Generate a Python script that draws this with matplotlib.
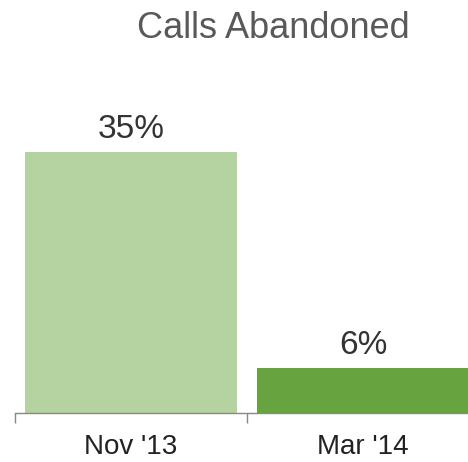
import matplotlib
matplotlib.use('Agg')
import matplotlib.pyplot as plt
import numpy as np

plt.rcParams['font.family'] = ['Liberation Sans', 'DejaVu Sans']

# Datos
categorias = ["Nov '13", "Mar '14"]
valores = [35, 6]
etiquetas = ['35%', '6%']
colores = ['#b5d3a0', '#67a440']

W, H = 468, 462
fig = plt.figure(figsize=(W / 100, H / 100), dpi=100)

# 232 px por categoria, base en y=413, 7.47 px por unidad
ymax = 40
ax = fig.add_axes([15 / W, (H - 413) / H, 464 / W, ymax * 7.47 / H])

x = np.arange(len(categorias))
ax.bar(x, valores, width=0.914, color=colores, zorder=2)

# Etiquetas de valor sobre las barras
for xi, v, t in zip(x, valores, etiquetas):
    ax.annotate(t, (xi, v), xytext=(0, 10), textcoords='offset points',
                ha='center', va='baseline', fontsize=24, color='#333333')

ax.set_xlim(-0.5, 1.5)
ax.set_ylim(0, ymax)

for s in ['top', 'right', 'left']:
    ax.spines[s].set_visible(False)
ax.spines['bottom'].set_color('#888888')
ax.spines['bottom'].set_linewidth(1)

ax.set_yticks([])
ax.set_xticks(x)
ax.set_xticklabels(categorias, fontsize=20, color='#222222')
ax.tick_params(axis='x', which='major', length=0, pad=15)
ax.set_xticks([-0.5, 0.5, 1.5], minor=True)
ax.tick_params(axis='x', which='minor', length=7.2, color='#888888', width=1)

fig.text(273 / W, 1 - 38 / H, 'Calls Abandoned', ha='center', va='baseline',
         fontsize=26, color='#595959')

fig.savefig('out.png', dpi=100)
